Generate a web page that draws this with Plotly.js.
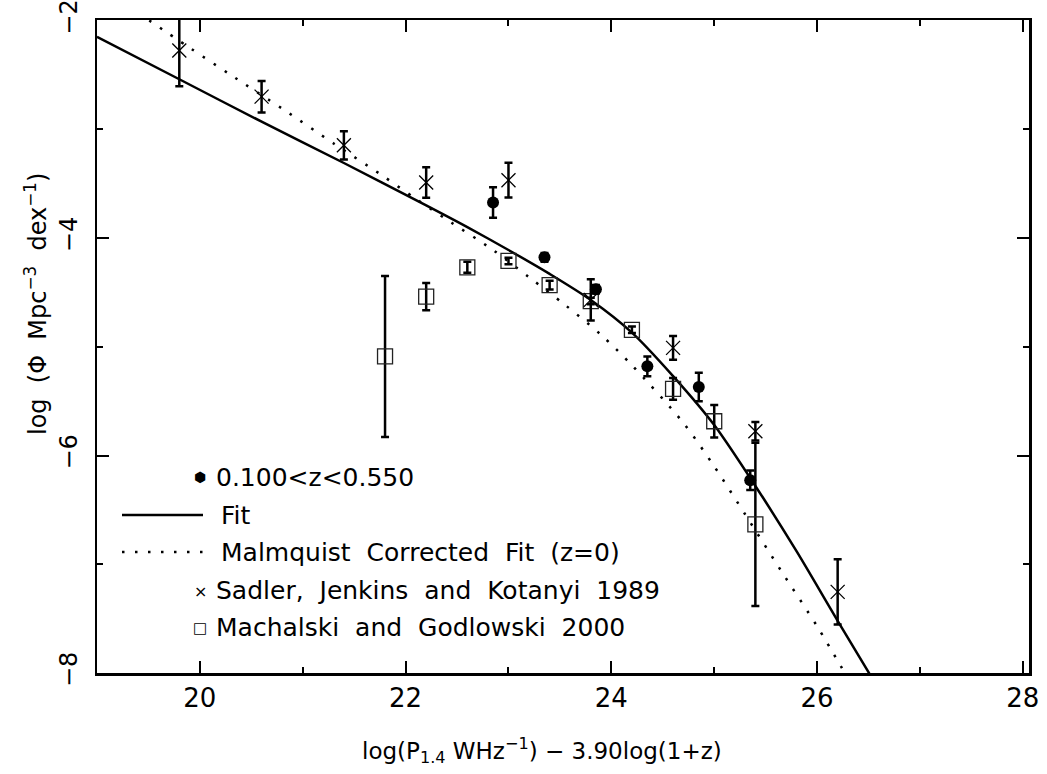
<!DOCTYPE html>
<html>
<head>
<meta charset="utf-8">
<script src="https://cdn.plot.ly/plotly-3.0.1.min.js"></script>
<style>html,body{margin:0;padding:0;background:#fff;}#plot{width:1047px;height:774px;}</style>
</head>
<body>
<div id="plot"></div>
<script>
// Sadler, Jenkins and Kotanyi 1989 (crosses)
const sadX = [19.8, 20.6, 21.4, 22.2, 23.0, 23.8, 24.6, 25.4, 26.2];
const sadY = [-2.275, -2.70, -3.147, -3.49, -3.468, -4.569, -5.01, -5.777, -7.254];
const sadErr = [0.33, 0.145, 0.13, 0.14, 0.16, 0.19, 0.11, 0.085, 0.30];

// Machalski and Godlowski 2000 (open squares)
const macX = [21.8, 22.2, 22.6, 23.0, 23.4, 23.8, 24.2, 24.6, 25.0, 25.4];
const macY = [-5.089, -4.538, -4.269, -4.211, -4.434, -4.58, -4.844, -5.388, -5.685, -6.633];
const macErr = [0.74, 0.125, 0.05, 0.03, 0.04, 0.03, 0.03, 0.10, 0.15, 0.75];

// 0.100<z<0.550 (filled points)
const zX = [22.85, 23.35, 23.85, 24.35, 24.85, 25.35];
const zY = [-3.673, -4.177, -4.471, -5.18, -5.37, -6.227];
const zErr = [0.14, 0.04, 0.04, 0.09, 0.13, 0.09];

// Fit (solid)
const fitX = [19.0, 19.8, 20.6, 21.4, 22.2, 22.6, 23.0, 23.4, 23.8, 24.2, 24.6, 25.0, 25.4, 25.8, 26.2, 26.6];
const fitY = [-2.15, -2.54, -2.93, -3.31, -3.70, -3.90, -4.11, -4.33, -4.57, -4.87, -5.27, -5.72, -6.28, -6.88, -7.52, -8.15];

// Malmquist corrected fit (dotted)
const malX = [19.4, 19.9, 20.3, 20.8, 21.3, 21.75, 22.1, 22.4, 22.85, 23.2, 23.55, 23.9, 24.2, 24.7, 25.0, 25.3, 25.65, 26.0, 26.3];
const malY = [-1.93, -2.25, -2.50, -2.81, -3.13, -3.41, -3.64, -3.83, -4.11, -4.36, -4.615, -4.89, -5.17, -5.70, -6.10, -6.54, -7.06, -7.57, -8.05];

const xTicks = [20, 22, 24, 26, 28];
const yTicks = [-8, -6, -4, -2];

const legendLabels = [
  '0.100<z<0.550',
  'Fit',
  'Malmquist\u00a0 Corrected\u00a0 Fit\u00a0 (z=0)',
  'Sadler,\u00a0 Jenkins\u00a0 and\u00a0 Kotanyi\u00a0 1989',
  'Machalski\u00a0 and\u00a0 Godlowski\u00a0 2000'
];

const FONT = 'DejaVu Sans, sans-serif';
const L = 97, R = 1029, T = 20, B = 673;
const px = v => (v - L) / (R - L);
const py = v => (B - v) / (B - T);
const yLabel = v => '\u2212' + Math.abs(v);

const traces = [
  {x: fitX, y: fitY, mode: 'lines', line: {color: '#000', width: 2.5, shape: 'spline', smoothing: 0.8}, hoverinfo: 'skip'},
  {x: malX, y: malY, mode: 'lines', line: {color: '#000', width: 2.5, dash: '2.5px,10.5px', shape: 'spline', smoothing: 0.8}, hoverinfo: 'skip'},
  {x: macX, y: macY, mode: 'markers', marker: {symbol: 'square-open', size: 15, color: '#222', line: {width: 1.3, color: '#222'}},
   error_y: {type: 'data', array: macErr, visible: true, color: '#000', thickness: 2.5, width: 4}},
  {x: sadX, y: sadY, mode: 'markers', marker: {symbol: 'x-thin-open', size: 14, color: '#000', line: {width: 1.3, color: '#000'}},
   error_y: {type: 'data', array: sadErr, visible: true, color: '#000', thickness: 2.5, width: 4}},
  {x: zX, y: zY, mode: 'markers', marker: {symbol: 'circle', size: 12, color: '#000'},
   error_y: {type: 'data', array: zErr, visible: true, color: '#000', thickness: 2.5, width: 4}}
];

const rowY = [477, 515, 552, 590, 627];
const annotations = [];
const shapes = [];
legendLabels.forEach((t, i) => {
  const x0 = (i === 1 || i === 2) ? 219 : 214;
  annotations.push({xref: 'paper', yref: 'paper', x: px(x0), y: py(rowY[i]), xanchor: 'left', yanchor: 'middle',
    text: t, showarrow: false, font: {family: FONT, size: 25, color: '#000'}});
});
annotations.push({xref: 'paper', yref: 'paper', x: px(200), y: py(rowY[0]), xanchor: 'center', yanchor: 'middle',
  text: '\u2b22', showarrow: false, font: {family: FONT, size: 14, color: '#000'}});
annotations.push({xref: 'paper', yref: 'paper', x: px(200), y: py(rowY[3] + 1), xanchor: 'center', yanchor: 'middle',
  text: '\u00d7', showarrow: false, font: {family: FONT, size: 16, color: '#000'}});
annotations.push({xref: 'paper', yref: 'paper', x: px(200), y: py(rowY[4] + 1), xanchor: 'center', yanchor: 'middle',
  text: '\u25a1', showarrow: false, font: {family: FONT, size: 15, color: '#000'}});
shapes.push({type: 'line', xref: 'paper', yref: 'paper', x0: px(122), x1: px(203), y0: py(rowY[1]), y1: py(rowY[1]), line: {color: '#000', width: 2.5}});
shapes.push({type: 'line', xref: 'paper', yref: 'paper', x0: px(122), x1: px(206), y0: py(rowY[2]), y1: py(rowY[2]), line: {color: '#000', width: 2.5, dash: '2.5px,10.5px'}});

// axis titles
annotations.push({xref: 'paper', yref: 'paper', x: px(542), y: py(750), xanchor: 'center', yanchor: 'middle',
  text: 'log(P<sub>1.4</sub> WHz<sup>\u22121</sup>) \u2212 3.90log(1+z)', showarrow: false,
  font: {family: FONT, size: 23, color: '#000'}});
annotations.push({xref: 'paper', yref: 'paper', x: px(36), y: py(304), xanchor: 'center', yanchor: 'middle', textangle: -90,
  text: 'log\u00a0 (\u03a6\u00a0 Mpc<sup>\u22123</sup>\u00a0 dex<sup>\u22121</sup>)', showarrow: false,
  font: {family: FONT, size: 24, color: '#000'}});

const axisCommon = {
  showgrid: false, zeroline: false, showline: true, linecolor: '#000', linewidth: 2.5, mirror: 'ticks',
  ticks: 'inside', ticklen: 12, tickwidth: 2, tickcolor: '#000',
  ticklabeloverflow: 'allow',
  minor: {dtick: 1, ticks: 'inside', ticklen: 6, tickwidth: 2, tickcolor: '#000'}
};

const layout = {
  width: 1047, height: 774,
  margin: {l: L, r: 1047 - R, t: T, b: 774 - B},
  paper_bgcolor: '#fff', plot_bgcolor: '#fff',
  showlegend: false,
  xaxis: Object.assign({}, axisCommon, {range: [19, 28.06], tickmode: 'array', tickvals: xTicks, ticktext: xTicks.map(String),
    tickfont: {family: FONT, size: 26, color: '#000'}}),
  yaxis: Object.assign({}, axisCommon, {range: [-8, -1.995], tickmode: 'array', tickvals: yTicks,
    ticktext: yTicks.map(yLabel), tickangle: -90, ticklabelstandoff: 8,
    tickfont: {family: FONT, size: 24, color: '#000'}}),
  annotations: annotations,
  shapes: shapes
};

Plotly.newPlot('plot', traces, layout, {staticPlot: true});
</script>
</body>
</html>
